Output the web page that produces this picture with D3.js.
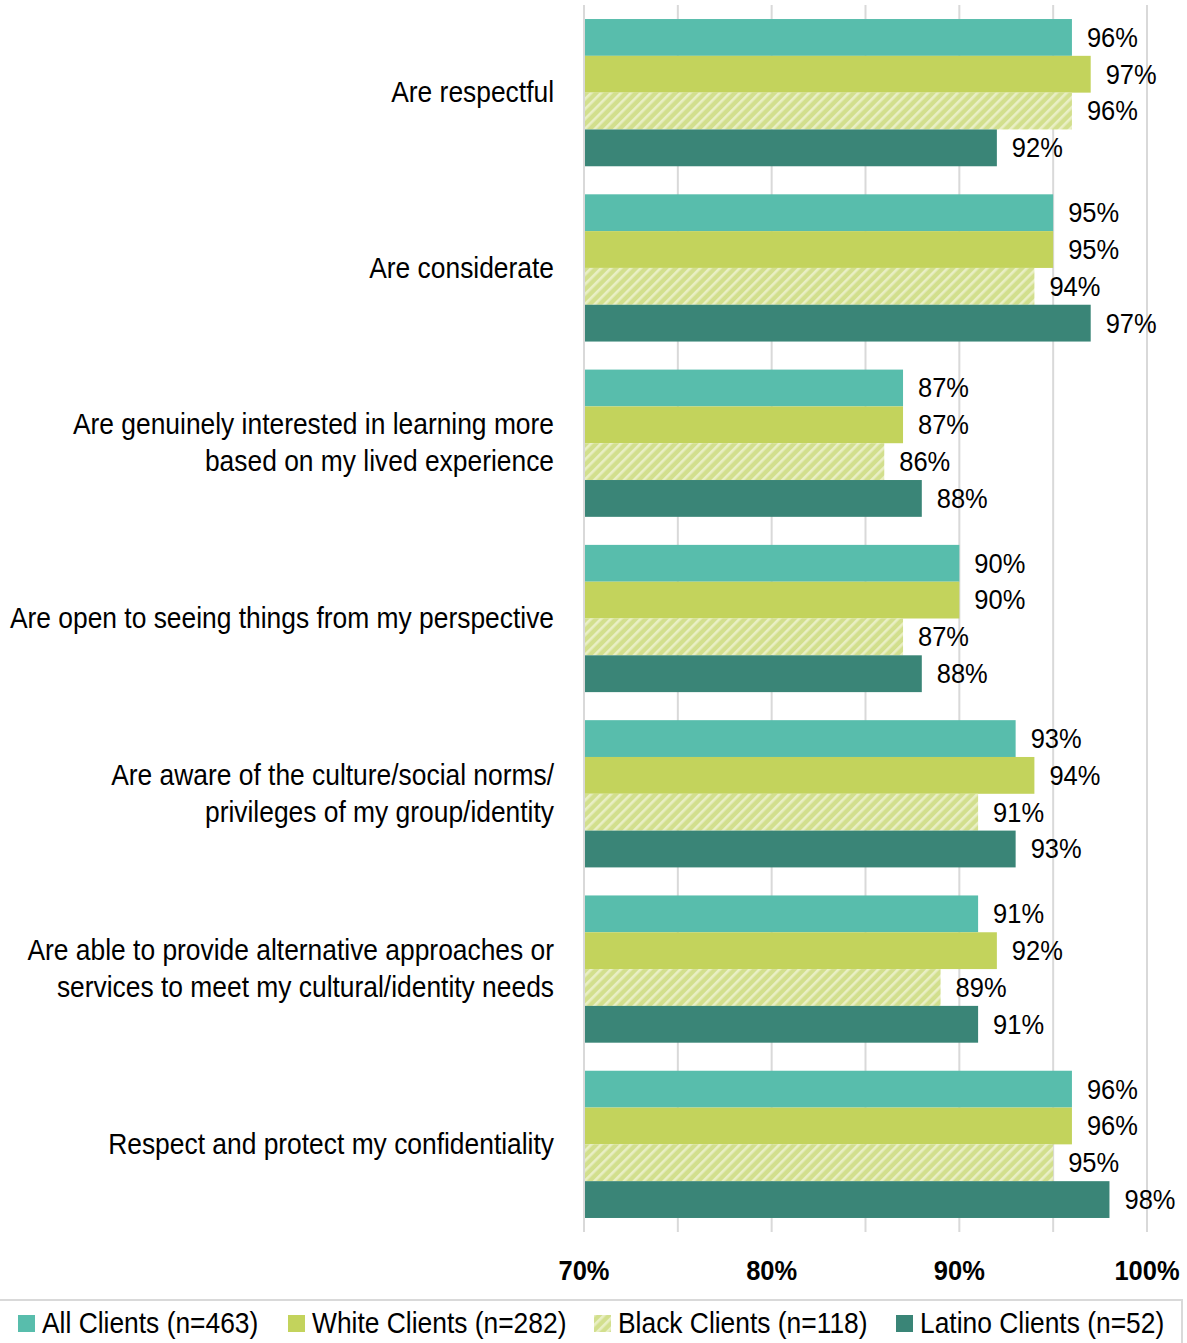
<!DOCTYPE html>
<html>
<head>
<meta charset="utf-8">
<script src="https://cdn.jsdelivr.net/npm/d3@7"></script>
<style>
  html, body { margin: 0; padding: 0; background: #fff; }
  svg { display: block; }
  text { font-family: "Liberation Sans", Arial, sans-serif; fill: #000; }
</style>
</head>
<body>
<svg id="chart" width="1187" height="1343"></svg>
<script>
// Statements about staff, one per row group
const categories = [
  ["Are respectful"],
  ["Are considerate"],
  ["Are genuinely interested in learning more", "based on my lived experience"],
  ["Are open to seeing things from my perspective"],
  ["Are aware of the culture/social norms/", "privileges of my group/identity"],
  ["Are able to provide alternative approaches or", "services to meet my cultural/identity needs"],
  ["Respect and protect my confidentiality"]
];

// Client groups (legend order)
const seriesNames = [
  "All Clients (n=463)",
  "White Clients (n=282)",
  "Black Clients (n=118)",
  "Latino Clients (n=52)"
];

// Percent agreeing, per statement, for each group
const allClients    = [96, 95, 87, 90, 93, 91, 96];
const whiteClients  = [97, 95, 87, 90, 94, 92, 96];
const blackClients  = [96, 94, 86, 87, 91, 89, 95];
const latinoClients = [92, 97, 88, 88, 93, 91, 98];

const seriesValues = [allClients, whiteClients, blackClients, latinoClients];

const tickLabels = [70, 80, 90, 100];
const gridValues = [70, 75, 80, 85, 90, 95, 100];

const svg = d3.select("#chart");

// Condensed look: horizontally squeeze text around its anchor point
const narrow = 0.91;
function placeText(sel, fx, fy) {
  sel.attr("x", 0).attr("y", 0)
     .attr("transform", (d, i) => `translate(${fx(d, i)},${fy(d, i)}) scale(${narrow},1)`);
}

const plot = { left: 584, right: 1147, top: 5, bottom: 1232 };

const x = d3.scaleLinear().domain([70, 100]).range([plot.left, plot.right]);

const y0 = d3.scaleBand()
  .domain(d3.range(categories.length))
  .range([plot.top, plot.bottom])
  .paddingInner(0.16)
  .paddingOuter(0.08);

const y1 = d3.scaleBand()
  .domain(d3.range(seriesNames.length))
  .range([0, y0.bandwidth()]);

const colors = ["#58bdac", "#c3d35c", "url(#hatch)", "#3a8577"];

// Diagonal stripe pattern for the hatched series
const hatchSize = 7;
const defs = svg.append("defs");
const pat = defs.append("pattern")
  .attr("id", "hatch")
  .attr("patternUnits", "userSpaceOnUse")
  .attr("width", hatchSize).attr("height", hatchSize)
  .attr("patternTransform", "rotate(45)");
pat.append("rect").attr("width", hatchSize).attr("height", hatchSize).attr("fill", "#d2df8d");
pat.append("rect").attr("x", 0).attr("width", 2.6).attr("height", hatchSize).attr("fill", "#e9efc5");

// Vertical gridlines
svg.append("g")
  .selectAll("line")
  .data(gridValues)
  .join("line")
  .attr("x1", d => x(d)).attr("x2", d => x(d))
  .attr("y1", plot.top).attr("y2", plot.bottom)
  .attr("stroke", "#d9d9d9")
  .attr("stroke-width", 2);

// Bars
const groups = svg.append("g")
  .selectAll("g")
  .data(categories.map((c, i) => i))
  .join("g")
  .attr("transform", i => `translate(0,${y0(i)})`);

groups.selectAll("rect")
  .data(i => seriesValues.map((vals, s) => ({ s, v: vals[i] })))
  .join("rect")
  .attr("x", x(70))
  .attr("y", d => y1(d.s))
  .attr("width", d => x(d.v) - x(70))
  .attr("height", y1.bandwidth())
  .attr("fill", d => colors[d.s]);

// Value labels
groups.selectAll("text.val")
  .data(i => seriesValues.map((vals, s) => ({ s, v: vals[i] })))
  .join("text")
  .attr("class", "val")
  .attr("dominant-baseline", "middle")
  .attr("font-size", 28)
  .text(d => d.v + "%")
  .call(placeText, d => x(d.v) + 15, d => y1(d.s) + y1.bandwidth() / 2 + 2);

// Left axis line
svg.append("line")
  .attr("x1", x(70)).attr("x2", x(70))
  .attr("y1", plot.top).attr("y2", plot.bottom)
  .attr("stroke", "#d9d9d9").attr("stroke-width", 2);

// Category labels
const lineH = 37;
svg.append("g")
  .selectAll("g")
  .data(categories)
  .join("g")
  .each(function(lines, i) {
    const cy = y0(i) + y0.bandwidth() / 2 + 2;
    d3.select(this).selectAll("text")
      .data(lines)
      .join("text")
      .attr("text-anchor", "end")
      .attr("dominant-baseline", "middle")
      .attr("font-size", 29)
      .text(d => d)
      .call(placeText, () => 554, (d, k) => cy + (k - (lines.length - 1) / 2) * lineH);
  });

// X tick labels
svg.append("g")
  .selectAll("text")
  .data(tickLabels)
  .join("text")
  .attr("text-anchor", "middle")
  .attr("dominant-baseline", "middle")
  .attr("font-size", 28)
  .attr("font-weight", "bold")
  .text(d => d + "%")
  .call(placeText, d => x(d), () => 1273);

// Legend box
svg.append("rect")
  .attr("x", -1).attr("y", 1300)
  .attr("width", 1183).attr("height", 60)
  .attr("fill", "none")
  .attr("stroke", "#d9d9d9").attr("stroke-width", 2);

const legendX = [18, 288, 594, 896];
const lg = svg.append("g")
  .selectAll("g")
  .data(seriesNames)
  .join("g")
  .attr("transform", (d, i) => `translate(${legendX[i]},1323.5)`);
lg.append("rect")
  .attr("x", 0).attr("y", -8.5)
  .attr("width", 17).attr("height", 17)
  .attr("fill", (d, i) => colors[i]);
lg.append("text")
  .attr("dominant-baseline", "middle")
  .attr("font-size", 29)
  .text(d => d)
  .call(placeText, () => 24, () => 2);
</script>
</body>
</html>
